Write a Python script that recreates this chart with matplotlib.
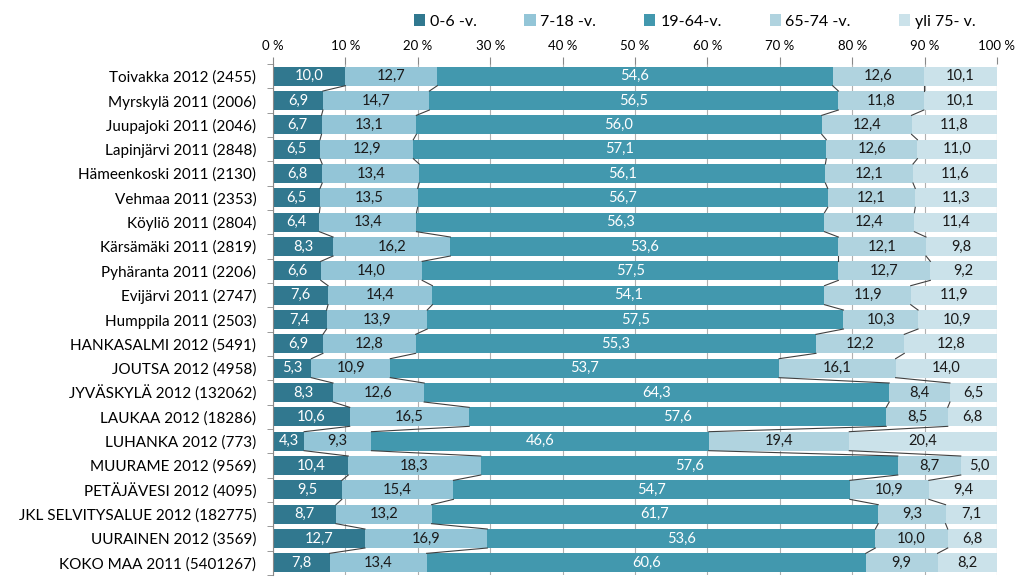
import numpy as np
import matplotlib.pyplot as plt
from matplotlib.ticker import FuncFormatter

plt.rcParams['font.family'] = ['Lato', 'DejaVu Sans']

areas = ["Toivakka 2012 (2455)", "Myrskylä 2011 (2006)", "Juupajoki 2011 (2046)",
         "Lapinjärvi 2011 (2848)", "Hämeenkoski 2011 (2130)", "Vehmaa 2011 (2353)",
         "Köyliö 2011 (2804)", "Kärsämäki 2011 (2819)", "Pyhäranta 2011 (2206)",
         "Evijärvi 2011 (2747)", "Humppila 2011 (2503)", "HANKASALMI 2012 (5491)",
         "JOUTSA 2012 (4958)", "JYVÄSKYLÄ 2012 (132062)", "LAUKAA 2012 (18286)",
         "LUHANKA 2012 (773)", "MUURAME 2012 (9569)", "PETÄJÄVESI 2012 (4095)",
         "JKL SELVITYSALUE 2012 (182775)", "UURAINEN 2012 (3569)", "KOKO MAA 2011 (5401267)"]

age_0_6 = [10.0, 6.9, 6.7, 6.5, 6.8, 6.5, 6.4, 8.3, 6.6, 7.6, 7.4, 6.9, 5.3, 8.3, 10.6,
           4.3, 10.4, 9.5, 8.7, 12.7, 7.8]
age_7_18 = [12.7, 14.7, 13.1, 12.9, 13.4, 13.5, 13.4, 16.2, 14.0, 14.4, 13.9, 12.8, 10.9,
            12.6, 16.5, 9.3, 18.3, 15.4, 13.2, 16.9, 13.4]
age_19_64 = [54.6, 56.5, 56.0, 57.1, 56.1, 56.7, 56.3, 53.6, 57.5, 54.1, 57.5, 55.3, 53.7,
             64.3, 57.6, 46.6, 57.6, 54.7, 61.7, 53.6, 60.6]
age_65_74 = [12.6, 11.8, 12.4, 12.6, 12.1, 12.1, 12.4, 12.1, 12.7, 11.9, 10.3, 12.2, 16.1,
             8.4, 8.5, 19.4, 8.7, 10.9, 9.3, 10.0, 9.9]
age_75 = [10.1, 10.1, 11.8, 11.0, 11.6, 11.3, 11.4, 9.8, 9.2, 11.9, 10.9, 12.8, 14.0,
          6.5, 6.8, 20.4, 5.0, 9.4, 7.1, 6.8, 8.2]

series = ["0-6 -v.", "7-18 -v.", "19-64-v.", "65-74 -v.", "yli 75- v."]
colors = ["#31788f", "#93c5d7", "#4298ae", "#b0d3df", "#cbe2ea"]
text_colors = ["white", "#1a1a1a", "white", "#1a1a1a", "#1a1a1a"]

data = np.array([age_0_6, age_7_18, age_19_64, age_65_74, age_75])
shares = data / data.sum(axis=0) * 100

fig = plt.figure(figsize=(10.24, 5.81), dpi=100)
ax = fig.add_axes([0.2666, 0.0103, 0.707, 0.8795])

n = len(areas)
y = np.arange(n)
h = 0.78
left = np.zeros(n)
handles = []
for i, name in enumerate(series):
    b = ax.barh(y, shares[i], left=left, height=h, color=colors[i], label=name, zorder=2)
    handles.append(b)
    for j in range(n):
        ax.text(left[j] + shares[i][j] / 2, y[j], f"{data[i][j]:.1f}".replace(".", ","),
                ha="center", va="center", fontsize=10.5, color=text_colors[i], zorder=4)
    left = left + shares[i]
    # series lines between bars
    if i < len(series) - 1:
        for j in range(n - 1):
            ax.plot([left[j], left[j + 1]], [y[j] + h / 2, y[j + 1] - h / 2],
                    color="#404040", lw=0.8, zorder=3)

ax.set_xlim(0, 100)
ax.set_ylim(n - 0.5, -0.5)
ax.set_yticks(y)
ax.set_yticklabels(areas, fontsize=11)
ax.set_yticks(np.arange(n + 1) - 0.5, minor=True)
ax.tick_params(axis="y", which="major", length=0, pad=12)
ax.tick_params(axis="y", which="minor", length=4, color="#888888")
ax.xaxis.tick_top()
ax.set_xticks(np.arange(0, 101, 10))
ax.xaxis.set_major_formatter(FuncFormatter(lambda v, p: f"{int(v)} %"))
ax.tick_params(axis="x", length=5, color="#888888", labelsize=9.5, pad=4)
ax.grid(axis="x", color="#b0b0b0", lw=0.8, zorder=0)
for s in ["right", "bottom", "top"]:
    ax.spines[s].set_visible(False)
ax.spines["left"].set_color("#888888")

fig.legend(handles=handles, labels=series, loc="upper left", bbox_to_anchor=(0.39, 1.0),
           ncol=5, frameon=False, fontsize=11.5, handlelength=0.7, handleheight=0.7,
           handletextpad=0.3, columnspacing=3.0)

fig.savefig("out.png", dpi=100)
